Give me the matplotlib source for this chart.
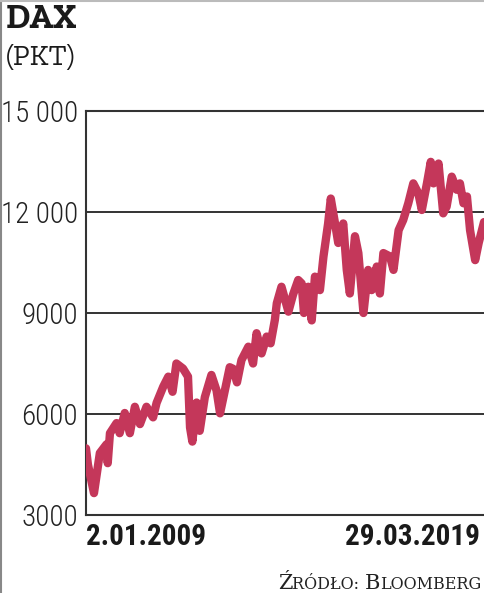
import matplotlib
matplotlib.use("Agg")
import matplotlib.pyplot as plt
from matplotlib import font_manager as fm
from matplotlib.lines import Line2D
from matplotlib.offsetbox import TextArea, HPacker, AnchoredOffsetbox
import pandas as pd

# DAX closing level
dates = ["2009-01-02", "2009-01-20", "2009-03-18", "2009-05-12", "2009-07-14", "2009-07-25",
         "2009-08-15", "2009-10-16", "2009-11-14", "2010-01-01", "2010-02-18", "2010-04-06",
         "2010-05-24", "2010-07-24", "2010-09-24", "2010-10-27", "2010-12-28", "2011-02-14",
         "2011-03-26", "2011-05-01", "2011-07-02", "2011-08-18", "2011-09-06", "2011-09-28",
         "2011-11-07", "2011-12-06", "2012-01-23", "2012-03-25", "2012-05-12", "2012-06-14",
         "2012-09-13", "2012-10-16", "2012-11-20", "2013-01-01", "2013-03-07", "2013-04-20",
         "2013-05-23", "2013-07-09", "2013-08-26", "2013-10-02", "2013-11-11", "2013-11-29",
         "2014-01-12", "2014-03-18", "2014-05-01", "2014-06-18", "2014-07-20", "2014-08-11",
         "2014-09-20", "2014-10-23", "2014-11-22", "2015-01-08", "2015-02-10", "2015-03-26",
         "2015-04-20", "2015-05-30", "2015-06-29", "2015-08-15", "2015-09-17", "2015-10-16",
         "2015-12-03", "2016-01-04", "2016-02-21", "2016-04-05", "2016-05-08", "2016-06-25",
         "2016-07-24", "2016-08-26", "2016-10-27", "2016-11-29", "2017-01-16", "2017-02-28",
         "2017-04-17", "2017-06-03", "2017-07-20", "2017-08-22", "2017-10-09", "2017-11-14",
         "2017-12-10", "2018-01-26", "2018-03-11", "2018-04-12", "2018-05-30", "2018-07-16",
         "2018-08-15", "2018-09-17", "2018-10-20", "2018-11-18", "2019-01-05", "2019-02-07",
         "2019-03-29"]
dax = [4980, 4500, 3650, 4840, 5100, 4540,
       5430, 5730, 5430, 6030, 5430, 6215,
       5700, 6215, 5900, 6330, 6810, 7110,
       6660, 7500, 7350, 7110, 5600, 5180,
       6340, 5500, 6500, 7160, 6700, 6020,
       7390, 7340, 6940, 7600, 8000, 7500,
       8400, 7800, 8300, 8100, 8800, 9290,
       9780, 9040, 9550, 9980, 9880, 9000,
       9780, 8780, 10080, 9680, 10670, 11660,
       12400, 11660, 11080, 11660, 10280, 9580,
       11280, 10780, 9000, 10280, 9680, 10380,
       9580, 10780, 10680, 10280, 11460, 11760,
       12260, 12850, 12560, 12060, 12850, 13490,
       12850, 13440, 11960, 12160, 13050, 12660,
       12850, 12260, 12460, 11460, 10570, 11080,
       11700]
yticks = [3000, 6000, 9000, 12000, 15000]
ylabels = ["3000", "6000", "9000", "12 000", "15 000"]
x_first = "2.01.2009"
x_last = "29.03.2019"


def pick(cands, fallback):
    for c in cands:
        try:
            fm.findfont(fm.FontProperties(family=c), fallback_to_default=False)
            return c
        except ValueError:
            pass
    return fallback


num_font = pick(["Roboto Condensed", "Barlow Condensed", "PT Sans Narrow", "Archivo Narrow",
                 "Fira Sans Condensed", "Liberation Sans Narrow", "Open Sans Condensed"], "DejaVu Sans")
slab = pick(["Roboto Slab", "Zilla Slab", "Bitter", "Arvo", "Rokkitt"], "DejaVu Serif")

d = pd.to_datetime(dates)
red = "#c4375a"

fig = plt.figure(figsize=(4.84, 5.93), dpi=100)
ax = fig.add_axes([86 / 484, 1 - 515 / 593, 1 - 86 / 484, (515 - 111) / 593])

ax.plot(d, dax, color=red, lw=6, solid_joinstyle="round", solid_capstyle="round", zorder=3)

ax.set_ylim(3000, 15000)
ax.set_xlim(d[0], d[-1])
ax.set_yticks(yticks)
ax.set_yticklabels(ylabels, family=[num_font, "DejaVu Sans"], fontweight="light",
                   fontsize=21, color="#222222")
ax.tick_params(axis="y", length=0, pad=6)
ax.set_xticks([])
ax.yaxis.grid(True, color="#333333", lw=1.4)
ax.set_axisbelow(True)
for s in ["left", "bottom", "top"]:
    ax.spines[s].set_color("#333333")
    ax.spines[s].set_linewidth(1.5)
ax.spines["right"].set_visible(False)

# date labels under the axis
ax.text(0, -0.02, x_first, transform=ax.transAxes, ha="left", va="top",
        family=[num_font, "DejaVu Sans"], fontweight="bold", fontsize=21, color="#1a1a1a")
ax.text(0.99, -0.02, x_last, transform=ax.transAxes, ha="right", va="top",
        family=[num_font, "DejaVu Sans"], fontweight="bold", fontsize=21, color="#1a1a1a")

# title
fig.text(6 / 484, 1 - 28 / 593, "DAX", family=[slab, "DejaVu Serif"], fontweight="bold",
         fontsize=25, color="#1a1a1a", va="baseline")
fig.text(6 / 484, 1 - 65 / 593, "(PKT)", family=[slab, "DejaVu Serif"], fontsize=21,
         color="#1a1a1a", va="baseline")

# source in small caps
parts = [("Ź", 15), ("RÓDŁO: ", 11.5), ("B", 15), ("LOOMBERG", 11.5)]
boxes = [TextArea(t, textprops=dict(family="DejaVu Serif", fontsize=s, color="#222222"))
         for t, s in parts]
pack = HPacker(children=boxes, align="baseline", pad=0, sep=0)
ab = AnchoredOffsetbox(loc="lower right", child=pack, frameon=False, pad=0,
                       bbox_to_anchor=(481 / 484, 0), bbox_transform=fig.transFigure,
                       borderpad=0)
fig.add_artist(ab)

# thin page border left and top
fig.add_artist(Line2D([0.002, 0.002], [0, 1], transform=fig.transFigure, color="#888888", lw=1.5))
fig.add_artist(Line2D([0, 1], [0.998, 0.998], transform=fig.transFigure, color="#bbbbbb", lw=1.5))

fig.savefig("out.png", dpi=100)
